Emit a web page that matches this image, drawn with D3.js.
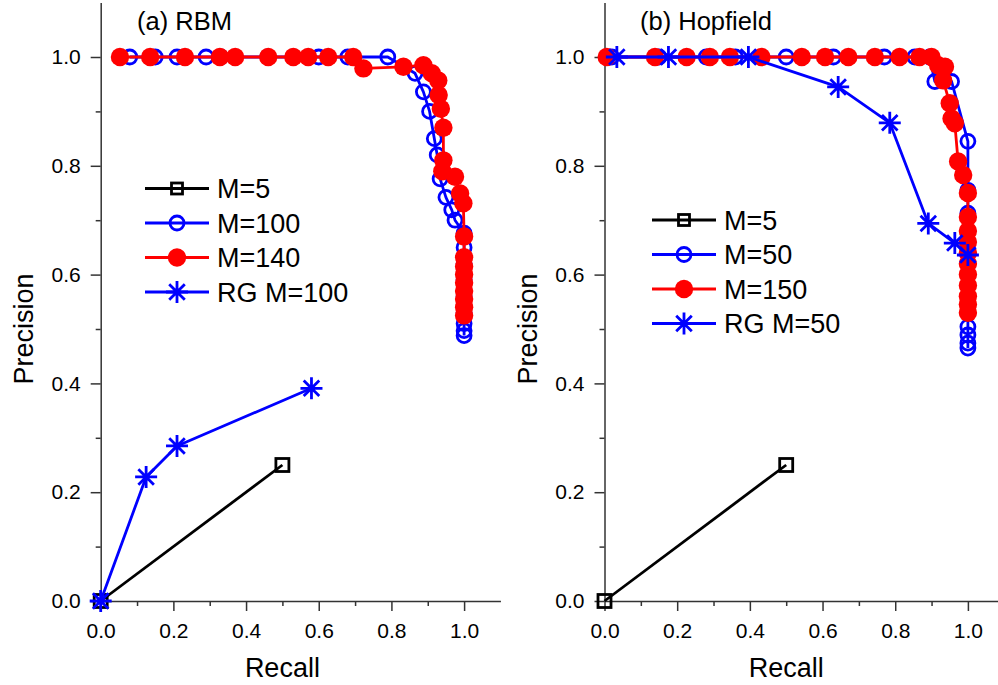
<!DOCTYPE html>
<html>
<head>
<meta charset="utf-8">
<script src="https://cdn.jsdelivr.net/npm/d3@7"></script>
<style>
  html, body { margin: 0; padding: 0; background: #fff; }
  svg { display: block; font-family: "Liberation Sans", Arial, sans-serif; }
</style>
</head>
<body>
<svg id="chart" width="998" height="685"></svg>
<script>
// ---------- DATA ----------
const majorTicks = [0.0, 0.2, 0.4, 0.6, 0.8, 1.0];
const minorTicks = [0.1, 0.3, 0.5, 0.7, 0.9];

// Panel (a) RBM
const aTitle = "(a) RBM";
const aLabels = ["M=5", "M=100", "M=140", "RG M=100"];
const aM5Recall = [0, 0.5];
const aM5Precision = [0, 0.25];
const aRGRecall = [0, 0.125, 0.21, 0.58];
const aRGPrecision = [0, 0.228, 0.285, 0.391];
const aM100Recall = [0.08, 0.15, 0.21, 0.29, 0.33, 0.46, 0.53, 0.60, 0.68, 0.79, 0.865, 0.888, 0.905, 0.918, 0.926, 0.934, 0.95, 0.966, 0.975, 1.0, 1.0, 1.0, 1.0, 1.0, 1.0, 1.0, 1.0, 1.0];
const aM100Precision = [1, 1, 1, 1, 1, 1, 1, 1, 1, 1, 0.97, 0.936, 0.9, 0.85, 0.82, 0.776, 0.742, 0.719, 0.70, 0.676, 0.65, 0.62, 0.59, 0.56, 0.53, 0.51, 0.497, 0.488];
const aM140Recall = [0.053, 0.136, 0.232, 0.328, 0.37, 0.461, 0.53, 0.571, 0.626, 0.695, 0.723, 0.833, 0.888, 0.911, 0.929, 0.93, 0.936, 0.943, 0.943, 0.94, 0.975, 0.989, 0.998, 1.0, 1.0, 1.0, 1.0, 1.0, 1.0, 1.0, 1.0, 1.0];
const aM140Precision = [1, 1, 1, 1, 1, 1, 1, 1, 1, 1, 0.979, 0.982, 0.985, 0.97, 0.957, 0.93, 0.905, 0.87, 0.81, 0.79, 0.78, 0.749, 0.731, 0.67, 0.632, 0.615, 0.60, 0.585, 0.57, 0.555, 0.54, 0.525];

// Panel (b) Hopfield
const bTitle = "(b) Hopfield";
const bLabels = ["M=5", "M=50", "M=150", "RG M=50"];
const bM5Recall = [0, 0.5];
const bM5Precision = [0, 0.25];
const bM50Recall = [0.02, 0.15, 0.28, 0.36, 0.5, 0.63, 0.77, 0.854, 0.895, 0.909, 0.955, 1.0, 1.0, 1.0, 1.0, 1.0, 1.0, 1.0, 1.0, 1.0, 1.0, 1.0, 1.0];
const bM50Precision = [1, 1, 1, 1, 1, 1, 1, 1, 1, 0.955, 0.955, 0.845, 0.755, 0.713, 0.68, 0.64, 0.60, 0.56, 0.53, 0.504, 0.489, 0.474, 0.465];
const bM150Recall = [0.006, 0.139, 0.226, 0.29, 0.345, 0.432, 0.543, 0.607, 0.671, 0.744, 0.812, 0.867, 0.9, 0.918, 0.937, 0.932, 0.95, 0.955, 0.964, 0.973, 0.987, 1.0, 1.0, 1.0, 1.0, 1.0, 1.0, 1.0, 1.0, 1.0, 1.0, 1.0];
const bM150Precision = [1, 1, 1, 1, 1, 1, 1, 1, 1, 1, 1, 1, 1, 0.985, 0.982, 0.957, 0.915, 0.887, 0.878, 0.808, 0.783, 0.75, 0.706, 0.68, 0.66, 0.64, 0.62, 0.60, 0.58, 0.56, 0.545, 0.53];
const bRGRecall = [0.034, 0.176, 0.396, 0.643, 0.785, 0.891, 0.964, 1.0];
const bRGPrecision = [1, 1, 1, 0.945, 0.879, 0.694, 0.658, 0.636];

// ---------- DRAWING ----------
const svg = d3.select("#chart");
const BLUE = "#0000ff", RED = "#ff0000", BLACK = "#000000";
const zip = (xs, ys) => xs.map((x, i) => [x, ys[i]]);

function symbolPath(g, type, color, x, y) {
  if (type === "square") {
    g.append("rect").attr("x", x - 6.5).attr("y", y - 6.5).attr("width", 13).attr("height", 13)
      .attr("fill", "none").attr("stroke", color).attr("stroke-width", 2.8);
  } else if (type === "open") {
    g.append("circle").attr("cx", x).attr("cy", y).attr("r", 7)
      .attr("fill", "none").attr("stroke", color).attr("stroke-width", 2.8);
  } else if (type === "filled") {
    g.append("circle").attr("cx", x).attr("cy", y).attr("r", 9.2)
      .attr("fill", color).attr("stroke", "none");
  } else if (type === "star") {
    const r = 11, d = r * Math.SQRT1_2;
    const p = `M${x - r},${y}L${x + r},${y}M${x},${y - r}L${x},${y + r}` +
              `M${x - d},${y - d}L${x + d},${y + d}M${x - d},${y + d}L${x + d},${y - d}`;
    g.append("path").attr("d", p).attr("stroke", color).attr("stroke-width", 2.8).attr("fill", "none");
  }
}

function drawPanel(cfg) {
  const x = d3.scaleLinear().domain([0, 1.1]).range([cfg.x0, cfg.x0 + 1.1 * 363.4]);
  const y = d3.scaleLinear().domain([0, 1.1]).range([601, 601 - 1.1 * 544]);
  const g = svg.append("g");

  const fmt = d3.format(".1f");
  const xAxis = g.append("g").attr("transform", `translate(0,${y(0)})`)
    .call(d3.axisBottom(x).tickValues(majorTicks).tickFormat(fmt).tickSize(10).tickSizeOuter(0).tickPadding(12));
  const xMinor = g.append("g").attr("transform", `translate(0,${y(0)})`)
    .call(d3.axisBottom(x).tickValues(minorTicks).tickFormat("").tickSize(5).tickSizeOuter(0));
  const yAxis = g.append("g").attr("transform", `translate(${x(0)},0)`)
    .call(d3.axisLeft(y).tickValues(majorTicks).tickFormat(fmt).tickSize(10).tickSizeOuter(0).tickPadding(10));
  const yMinor = g.append("g").attr("transform", `translate(${x(0)},0)`)
    .call(d3.axisLeft(y).tickValues(minorTicks).tickFormat("").tickSize(5).tickSizeOuter(0));
  [xAxis, xMinor, yAxis, yMinor].forEach(a => {
    a.selectAll("path,line").attr("stroke", "#333").attr("stroke-width", 1.5);
    a.selectAll("text").attr("font-size", 21).attr("fill", "#000")
      .attr("font-family", '"Liberation Sans", Arial, sans-serif');
  });
  xMinor.select(".domain").remove();
  yMinor.select(".domain").remove();

  g.append("text").attr("x", (x(0) + x(1)) / 2).attr("y", 677).attr("text-anchor", "middle")
    .attr("font-size", 27).text("Recall");
  g.append("text").attr("transform", `translate(${cfg.x0 - 68},${y(0.5)}) rotate(-90)`)
    .attr("text-anchor", "middle").attr("font-size", 27).text("Precision");
  g.append("text").attr("x", cfg.titleX).attr("y", 30).attr("font-size", 25.5).text(cfg.title);

  const line = d3.line().x(d => x(d[0])).y(d => y(d[1]));
  cfg.series.forEach(s => {
    const pts = zip(s.rx, s.py);
    g.append("path").datum(pts).attr("d", line).attr("fill", "none")
      .attr("stroke", s.color).attr("stroke-width", 2.8).attr("stroke-linejoin", "round");
    const mg = g.append("g");
    pts.forEach(p => symbolPath(mg, s.sym, s.color, x(p[0]), y(p[1])));
  });

  const lg = g.append("g");
  cfg.legendOrder.forEach((s, i) => {
    const yy = cfg.legY + i * 34.5;
    lg.append("line").attr("x1", cfg.legX).attr("x2", cfg.legX + 64).attr("y1", yy).attr("y2", yy)
      .attr("stroke", s.color).attr("stroke-width", 2.8);
    const lsym = lg.append("g");
    if (s.sym === "square") {
      lsym.append("rect").attr("x", cfg.legX + 32 - 5.5).attr("y", yy - 5.5).attr("width", 11).attr("height", 11)
        .attr("fill", "none").attr("stroke", s.color).attr("stroke-width", 2.8);
    } else {
      symbolPath(lsym, s.sym, s.color, cfg.legX + 32, yy);
    }
    lg.append("text").attr("x", cfg.legX + 72).attr("y", yy).attr("dy", "0.36em")
      .attr("font-size", 27).text(s.label);
  });
}

const aSeries = {
  m5: { rx: aM5Recall, py: aM5Precision, color: BLACK, sym: "square", label: aLabels[0] },
  m100: { rx: aM100Recall, py: aM100Precision, color: BLUE, sym: "open", label: aLabels[1] },
  m140: { rx: aM140Recall, py: aM140Precision, color: RED, sym: "filled", label: aLabels[2] },
  rg: { rx: aRGRecall, py: aRGPrecision, color: BLUE, sym: "star", label: aLabels[3] }
};
drawPanel({
  x0: 100.7, title: aTitle, titleX: 137, legX: 145, legY: 188.5,
  series: [aSeries.m5, aSeries.rg, aSeries.m100, aSeries.m140],
  legendOrder: [aSeries.m5, aSeries.m100, aSeries.m140, aSeries.rg]
});

const bSeries = {
  m5: { rx: bM5Recall, py: bM5Precision, color: BLACK, sym: "square", label: bLabels[0] },
  m50: { rx: bM50Recall, py: bM50Precision, color: BLUE, sym: "open", label: bLabels[1] },
  m150: { rx: bM150Recall, py: bM150Precision, color: RED, sym: "filled", label: bLabels[2] },
  rg: { rx: bRGRecall, py: bRGPrecision, color: BLUE, sym: "star", label: bLabels[3] }
};
drawPanel({
  x0: 604.5, title: bTitle, titleX: 640, legX: 652, legY: 220,
  series: [bSeries.m5, bSeries.m50, bSeries.m150, bSeries.rg],
  legendOrder: [bSeries.m5, bSeries.m50, bSeries.m150, bSeries.rg]
});
</script>
</body>
</html>
